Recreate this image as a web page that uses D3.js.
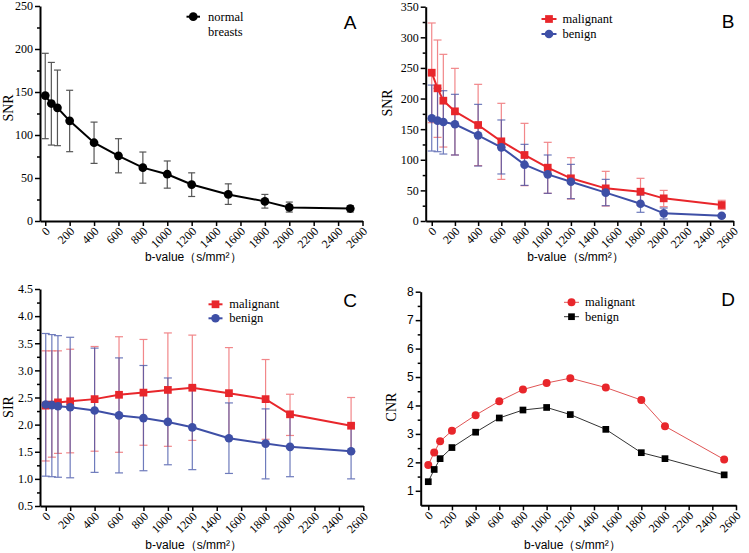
<!DOCTYPE html>
<html>
<head>
<meta charset="utf-8">
<script src="https://cdn.jsdelivr.net/npm/d3@7/dist/d3.min.js"></script>
<style>
  html, body { margin: 0; padding: 0; background: #fff; }
  svg { display: block; }
</style>
</head>
<body>
<svg id="chart" width="749" height="553"></svg>
<script>
// ---------------- DATA ----------------
const bValues = [0, 50, 100, 200, 400, 600, 800, 1000, 1200, 1500, 1800, 2000, 2500];
const xTickValues = [0, 200, 400, 600, 800, 1000, 1200, 1400, 1600, 1800, 2000, 2200, 2400, 2600];

// Panel A: normal breasts SNR (mean, lower / upper error bar ends)
const normalSNR      = [145.8, 136.6, 131.6, 116.5, 91.0, 75.8, 62.0, 54.4, 42.4, 30.9, 22.8, 15.8, 14.5];
const normalSNRLow   = [95.7, 88.3, 87.6, 80.6, 67.0, 56.0, 44.0, 38.2, 28.5, 19.3, 15.0, 10.4, 10.4];
const normalSNRHigh  = [195.0, 184.4, 175.5, 152.0, 115.0, 95.7, 80.2, 69.8, 56.0, 43.2, 30.9, 22.0, 17.8];

// Panel B: SNR malignant / benign
const malignantSNR     = [242.2, 216.7, 196.5, 179.1, 156.8, 130.1, 107.8, 87.1, 69.7, 53.3, 47.9, 37.0, 26.1];
const malignantSNRLow  = [160.6, 136.6, 120.8, 107.8, 90.4, 68.0, 57.7, 45.2, 35.9, 24.5, 26.1, 23.4, 19.0];
const malignantSNRHigh = [323.4, 295.6, 272.2, 249.3, 223.2, 192.2, 159.5, 128.5, 103.4, 81.1, 69.7, 50.0, 33.8];
const benignSNR        = [167.7, 163.9, 161.7, 157.9, 139.9, 120.3, 92.0, 76.2, 64.2, 46.3, 28.3, 12.5, 8.7];
const benignSNRLow     = [114.3, 113.2, 109.4, 107.8, 89.8, 76.8, 58.2, 45.2, 36.5, 25.0, 14.2, 3.3, 7.0];
const benignSNRHigh    = [222.0, 216.7, 212.8, 206.9, 190.5, 165.0, 125.2, 107.8, 92.5, 68.0, 42.5, 21.2, 10.3];

// Panel C: SIR malignant / benign
const malignantSIR     = [2.35, 2.37, 2.41, 2.43, 2.47, 2.55, 2.59, 2.64, 2.68, 2.58, 2.47, 2.19, 1.98];
const malignantSIRLow  = [1.33, 1.40, 1.47, 1.48, 1.51, 1.49, 1.62, 1.60, 1.71, 1.74, 1.73, 1.80, 1.48];
const malignantSIRHigh = [3.36, 3.36, 3.36, 3.39, 3.44, 3.62, 3.57, 3.69, 3.65, 3.42, 3.20, 2.56, 2.50];
const benignSIR        = [2.37, 2.36, 2.34, 2.32, 2.26, 2.17, 2.12, 2.05, 1.95, 1.75, 1.65, 1.59, 1.51];
const benignSIRLow     = [1.05, 1.04, 1.03, 1.02, 1.12, 1.11, 1.15, 1.26, 1.17, 1.10, 1.00, 1.04, 1.00];
const benignSIRHigh    = [3.68, 3.66, 3.64, 3.61, 3.41, 3.23, 3.09, 2.86, 2.71, 2.40, 2.29, 2.19, 2.01];

// Panel D: CNR malignant / benign
const malignantCNR = [1.91, 2.35, 2.74, 3.11, 3.66, 4.15, 4.56, 4.79, 4.96, 4.63, 4.19, 3.27, 2.10];
const benignCNR    = [1.32, 1.75, 2.13, 2.52, 3.06, 3.56, 3.84, 3.93, 3.68, 3.16, 2.34, 2.13, 1.56];

// Tick labels
const snrTicksA = [0, 50, 100, 150, 200, 250];
const snrMinorA = [25, 75, 125, 175, 225];
const snrTicksB = [0, 50, 100, 150, 200, 250, 300, 350];
const snrMinorB = [25, 75, 125, 175, 225, 275, 325];
const sirTicks  = [0.5, 1.0, 1.5, 2.0, 2.5, 3.0, 3.5, 4.0, 4.5];
const sirMinor  = [0.75, 1.25, 1.75, 2.25, 2.75, 3.25, 3.75, 4.25];
const cnrTicks  = [1, 2, 3, 4, 5, 6, 7, 8];
const cnrMinor  = [1.5, 2.5, 3.5, 4.5, 5.5, 6.5, 7.5];

const xTitle = "b-value（s/mm²）";

// ---------------- STYLE ----------------
const SERIF = "'Liberation Serif', 'Times New Roman', 'DejaVu Serif', serif";
const SANS = "'Liberation Sans', Arial, sans-serif";
const RED = "#e8262b";
const BLUE = "#3e4fa6";

const svg = d3.select("#chart");

function drawPanel(cfg) {
  const g = svg.append("g");
  const x = d3.scaleLinear().domain(cfg.xDomain).range(cfg.xRange);
  const y = d3.scaleLinear().domain(cfg.yDomain).range(cfg.yRange);
  const x0 = cfg.xRange[0], yb = cfg.yRange[0];

  // minor y ticks
  const minor = g.append("g").attr("transform", `translate(${x0},0)`)
    .call(d3.axisLeft(y).tickValues(cfg.yMinor).tickSize(3).tickSizeOuter(0).tickFormat(""));
  minor.select(".domain").remove();
  minor.selectAll("line").attr("stroke-width", 1.5);

  // y axis
  const ya = g.append("g").attr("transform", `translate(${x0},0)`)
    .call(d3.axisLeft(y).tickValues(cfg.yTicks).tickSize(5).tickSizeOuter(0).tickPadding(2)
      .tickFormat(cfg.yFormat));
  ya.select(".domain").attr("stroke-width", 2);
  ya.selectAll("line").attr("stroke-width", 1.5);
  ya.selectAll("text").style("font-family", cfg.yFont).style("font-size", "12px").attr("fill", "#000");

  // x axis
  const xa = g.append("g").attr("transform", `translate(0,${yb})`)
    .call(d3.axisBottom(x).tickValues(xTickValues).tickSize(5).tickSizeOuter(0).tickFormat(d3.format("d")));
  xa.select(".domain").attr("stroke-width", 2);
  xa.selectAll("line").attr("stroke-width", 1.5);
  xa.selectAll("text")
    .style("font-family", SERIF).style("font-size", "12px").attr("fill", "#000")
    .attr("text-anchor", "end")
    .attr("x", 0).attr("y", 0).attr("dy", "0.35em")
    .attr("transform", "translate(2,8) rotate(-45)");
  g.selectAll(".domain").attr("stroke", "#000");

  // titles
  g.append("text").attr("x", (cfg.xRange[0] + cfg.xRange[1]) / 2 + cfg.xTitleDx)
    .attr("y", cfg.xTitleY).attr("text-anchor", "middle")
    .style("font-family", SANS).style("font-size", "12px").text(xTitle);
  g.append("text").attr("transform", `translate(${cfg.yTitleX},${cfg.yTitleY}) rotate(-90)`)
    .attr("text-anchor", "middle").style("font-family", SERIF).style("font-size", "14px")
    .text(cfg.yTitle);
  g.append("text").attr("x", cfg.letterX).attr("y", cfg.letterY).attr("text-anchor", "middle")
    .style("font-family", SANS).style("font-size", "19px").text(cfg.letter);

  // error bars
  cfg.series.forEach(s => {
    if (!s.low) return;
    const eb = g.append("g").attr("stroke", s.errColor).attr("stroke-width", 1.2)
      .attr("opacity", s.errOpacity);
    bValues.forEach((b, i) => {
      const cx = x(b);
      eb.append("line").attr("x1", cx).attr("x2", cx).attr("y1", y(s.low[i])).attr("y2", y(s.high[i]));
      eb.append("line").attr("x1", cx - s.cap).attr("x2", cx + s.cap).attr("y1", y(s.low[i])).attr("y2", y(s.low[i]));
      eb.append("line").attr("x1", cx - s.cap).attr("x2", cx + s.cap).attr("y1", y(s.high[i])).attr("y2", y(s.high[i]));
    });
  });

  // lines + markers
  cfg.series.forEach(s => {
    const line = d3.line().x((d, i) => x(bValues[i])).y(d => y(d));
    g.append("path").datum(s.values).attr("d", line).attr("fill", "none")
      .attr("stroke", s.lineColor).attr("stroke-width", s.lineWidth);
    const sym = d3.symbol().type(s.shape === "square" ? d3.symbolSquare : d3.symbolCircle).size(s.size);
    g.append("g").selectAll("path").data(s.values).join("path")
      .attr("transform", (d, i) => `translate(${x(bValues[i])},${y(d)})`)
      .attr("d", sym).attr("fill", s.color);
  });

  // legend
  cfg.legend.forEach((L, k) => {
    const s = cfg.series[L.series];
    const ly = cfg.legendY + k * cfg.legendDy;
    g.append("line").attr("x1", cfg.legendX0).attr("x2", cfg.legendX1).attr("y1", ly).attr("y2", ly)
      .attr("stroke", s.lineColor).attr("stroke-width", s.lineWidth);
    const sym = d3.symbol().type(s.shape === "square" ? d3.symbolSquare : d3.symbolCircle).size(s.size);
    g.append("path").attr("transform", `translate(${(cfg.legendX0 + cfg.legendX1) / 2},${ly})`)
      .attr("d", sym).attr("fill", s.color);
    L.lines.forEach((t, j) => {
      g.append("text").attr("x", cfg.legendTextX).attr("y", ly + 4 + j * 15)
        .style("font-family", SERIF).style("font-size", "12.5px").text(t);
    });
  });
}

// Panel A
drawPanel({
  xDomain: [-43, 2600], xRange: [40, 362.5],
  yDomain: [0, 250], yRange: [221, 6],
  yTicks: snrTicksA, yMinor: snrMinorA, yFormat: d3.format("d"), yFont: SERIF,
  yTitle: "SNR", yTitleX: 13, yTitleY: 108,
  xTitleY: 261, xTitleDx: -8,
  letter: "A", letterX: 350, letterY: 29,
  series: [
    { values: normalSNR, low: normalSNRLow, high: normalSNRHigh, color: "#000", lineColor: "#000",
      lineWidth: 2, shape: "circle", size: 60, errColor: "#444", errOpacity: 0.9, cap: 3.5 }
  ],
  legend: [{ series: 0, lines: ["normal", "breasts"] }],
  legendX0: 186.5, legendX1: 200, legendY: 16.7, legendDy: 15, legendTextX: 208
});

// Panel B
drawPanel({
  xDomain: [-52, 2600], xRange: [425.7, 733.3],
  yDomain: [0, 350], yRange: [221, 6.7],
  yTicks: snrTicksB, yMinor: snrMinorB, yFormat: d3.format("d"), yFont: SERIF,
  yTitle: "SNR", yTitleX: 392, yTitleY: 103,
  xTitleY: 261, xTitleDx: -4,
  letter: "B", letterX: 728, letterY: 28,
  series: [
    { values: malignantSNR, low: malignantSNRLow, high: malignantSNRHigh, color: RED, lineColor: RED,
      lineWidth: 2, shape: "square", size: 60, errColor: RED, errOpacity: 0.55, cap: 4 },
    { values: benignSNR, low: benignSNRLow, high: benignSNRHigh, color: BLUE, lineColor: BLUE,
      lineWidth: 2, shape: "circle", size: 58, errColor: BLUE, errOpacity: 0.75, cap: 4 }
  ],
  legend: [{ series: 0, lines: ["malignant"] }, { series: 1, lines: ["benign"] }],
  legendX0: 541.5, legendX1: 556.5, legendY: 19, legendDy: 15, legendTextX: 562.5
});

// Panel C
drawPanel({
  xDomain: [-47, 2600], xRange: [40, 363.3],
  yDomain: [0.5, 4.5], yRange: [506, 289],
  yTicks: sirTicks, yMinor: sirMinor, yFormat: d3.format(".1f"), yFont: SERIF,
  yTitle: "SIR", yTitleX: 13, yTitleY: 407,
  xTitleY: 549, xTitleDx: -8,
  letter: "C", letterX: 350, letterY: 307,
  series: [
    { values: malignantSIR, low: malignantSIRLow, high: malignantSIRHigh, color: RED, lineColor: RED,
      lineWidth: 2, shape: "square", size: 60, errColor: RED, errOpacity: 0.55, cap: 4 },
    { values: benignSIR, low: benignSIRLow, high: benignSIRHigh, color: BLUE, lineColor: BLUE,
      lineWidth: 2, shape: "circle", size: 58, errColor: BLUE, errOpacity: 0.75, cap: 4 }
  ],
  legend: [{ series: 0, lines: ["malignant"] }, { series: 1, lines: ["benign"] }],
  legendX0: 208.5, legendX1: 222.5, legendY: 304.3, legendDy: 14, legendTextX: 229.3
});

// Panel D
drawPanel({
  xDomain: [-64, 2600], xRange: [420.7, 736],
  yDomain: [0.49, 8], yRange: [505.3, 291.7],
  yTicks: cnrTicks, yMinor: cnrMinor, yFormat: d3.format("d"), yFont: SANS,
  yTitle: "CNR", yTitleX: 396, yTitleY: 407,
  xTitleY: 549, xTitleDx: -6,
  letter: "D", letterX: 728, letterY: 306,
  series: [
    { values: malignantCNR, color: RED, lineColor: "#e05555",
      lineWidth: 1, shape: "circle", size: 50, cap: 0 },
    { values: benignCNR, color: "#000", lineColor: "#333",
      lineWidth: 1, shape: "square", size: 45, cap: 0 }
  ],
  legend: [{ series: 0, lines: ["malignant"] }, { series: 1, lines: ["benign"] }],
  legendX0: 564, legendX1: 579, legendY: 302.3, legendDy: 14.4, legendTextX: 585
});
</script>
</body>
</html>
